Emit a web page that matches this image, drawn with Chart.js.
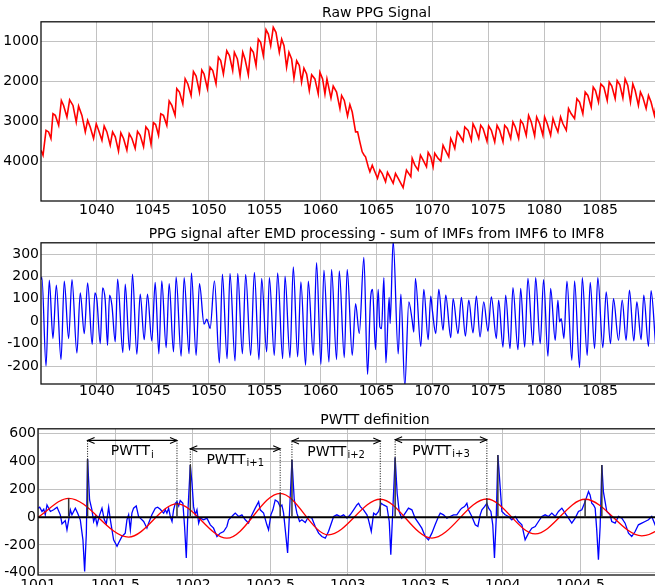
<!DOCTYPE html>
<html><head><meta charset="utf-8">
<script src="https://cdn.jsdelivr.net/npm/chart.js@4/dist/chart.umd.min.js"></script>
<style>
html,body{margin:0;padding:0;background:#fff;overflow:hidden;}
#wrap{position:relative;width:655px;height:585px;overflow:hidden;background:#fff;}
canvas{position:absolute;left:0;}
</style></head><body>
<div id="wrap">
<canvas id="c1" width="730" height="225" style="top:0px"></canvas>
<canvas id="c2" width="730" height="185" style="top:221px"></canvas>
<canvas id="c3" width="730" height="192" style="top:407px"></canvas>
</div>
<script>
// ---------- Panel 1: Raw PPG signal ----------
const rawTitle = 'Raw PPG Signal';
const rawT = [1035.00,1035.18,1035.45,1035.68,1035.89,1036.07,1036.28,1036.58,1036.82,1037.02,1037.32,1037.56,1037.86,1038.15,1038.36,1038.66,1038.96,1039.17,1039.40,1039.70,1039.94,1040.15,1040.45,1040.65,1040.89,1041.19,1041.40,1041.64,1041.93,1042.14,1042.38,1042.68,1042.89,1043.13,1043.42,1043.63,1043.87,1044.17,1044.38,1044.61,1044.84,1045.05,1045.25,1045.51,1045.71,1045.95,1046.25,1046.46,1046.70,1046.99,1047.14,1047.38,1047.68,1047.89,1048.13,1048.42,1048.63,1048.87,1049.17,1049.38,1049.58,1049.88,1050.12,1050.36,1050.65,1050.86,1051.07,1051.31,1051.61,1051.85,1052.14,1052.29,1052.56,1052.80,1053.04,1053.24,1053.54,1053.75,1053.99,1054.23,1054.43,1054.64,1054.88,1055.12,1055.33,1055.54,1055.77,1056.01,1056.31,1056.52,1056.73,1056.96,1057.17,1057.41,1057.62,1057.86,1058.10,1058.30,1058.51,1058.75,1058.99,1059.20,1059.49,1059.79,1059.94,1060.18,1060.39,1060.57,1060.93,1061.13,1061.43,1061.73,1061.88,1062.12,1062.41,1062.62,1062.83,1063.13,1063.31,1063.51,1063.72,1063.90,1064.02,1064.26,1064.41,1064.62,1064.85,1065.09,1065.30,1065.51,1065.81,1065.98,1066.19,1066.49,1066.70,1066.94,1067.38,1067.68,1068.07,1068.19,1068.43,1068.72,1068.93,1069.17,1069.47,1069.62,1069.85,1070.06,1070.21,1070.51,1070.75,1070.95,1071.16,1071.46,1071.64,1071.85,1072.00,1072.23,1072.44,1072.74,1072.89,1073.19,1073.48,1073.63,1073.84,1074.14,1074.32,1074.53,1074.88,1075.03,1075.27,1075.57,1075.78,1076.01,1076.31,1076.46,1076.70,1077.00,1077.20,1077.41,1077.71,1077.89,1078.10,1078.39,1078.60,1078.84,1079.14,1079.32,1079.59,1079.88,1080.03,1080.27,1080.57,1080.78,1080.98,1081.22,1081.46,1081.67,1081.97,1082.17,1082.41,1082.71,1082.92,1083.16,1083.45,1083.66,1083.90,1084.20,1084.38,1084.58,1084.85,1085.06,1085.33,1085.63,1085.81,1086.04,1086.34,1086.52,1086.76,1087.03,1087.23,1087.47,1087.71,1087.92,1088.13,1088.42,1088.60,1088.81,1089.11,1089.32,1089.55,1089.85,1090.05];
const rawV = [3725,3850,3225,3265,3430,2810,2850,3100,2475,2600,2890,2460,2600,3015,2615,2850,3265,2975,3140,3430,3060,3225,3475,3115,3265,3600,3265,3390,3750,3290,3430,3725,3310,3430,3680,3250,3350,3640,3140,3225,3580,3030,3080,3350,2810,2850,3100,2490,2600,2850,2180,2265,2560,1930,2060,2350,1750,1865,2265,1710,1810,2180,1640,1725,2060,1390,1475,1810,1225,1350,1725,1265,1435,1850,1265,1435,1830,1165,1265,1600,935,1015,1350,700,810,1100,640,765,1265,935,1100,1640,1265,1435,1915,1475,1600,2015,1665,1810,2225,1830,1935,2310,1765,1935,2310,1935,2415,2115,2265,2680,2350,2475,2865,2580,2765,3265,3265,3515,3765,3850,3890,4140,4265,4100,4265,4430,4225,4310,4515,4280,4390,4555,4310,4430,4665,4225,4390,3930,4100,4225,3850,3975,4140,3780,3890,4140,3800,3930,3995,3600,3725,3890,3430,3560,3680,3265,3350,3500,3140,3225,3475,3060,3180,3430,3100,3180,3500,3115,3225,3515,3100,3225,3515,3100,3180,3430,3015,3140,3430,2975,3060,3350,2850,3015,3365,2890,3060,3350,2890,3060,3350,2930,3100,3265,2890,3060,3225,2680,2810,2930,2430,2515,2810,2265,2350,2640,2140,2225,2515,2060,2140,2475,2015,2115,2430,1975,2080,2415,1935,2100,2515,2060,2225,2600,2265,2390,2680,2350,2515,2850,2500];
const rawXTicks = [1040,1045,1050,1055,1060,1065,1070,1075,1080,1085];
const rawYTicks = [1000,2000,3000,4000];

// ---------- Panel 2: EMD processed ----------
const emdTitle = 'PPG signal after EMD processing - sum of IMFs from IMF6 to IMF8';
const emdT = [1035.00,1035.08,1035.45,1035.74,1036.07,1036.37,1036.79,1037.08,1037.47,1037.77,1038.21,1038.51,1038.87,1039.17,1039.58,1039.82,1040.00,1040.30,1040.51,1040.74,1040.95,1041.13,1041.34,1041.64,1041.85,1042.32,1042.53,1042.92,1043.18,1043.57,1043.87,1044.23,1044.52,1044.91,1045.21,1045.54,1045.80,1046.19,1046.46,1046.85,1047.08,1047.53,1047.80,1048.24,1048.45,1048.87,1049.17,1049.58,1049.82,1049.97,1050.12,1050.51,1050.95,1051.22,1051.64,1051.90,1052.35,1052.59,1053.01,1053.30,1053.75,1054.08,1054.49,1054.73,1055.18,1055.42,1055.86,1056.16,1056.61,1056.82,1057.26,1057.56,1057.95,1058.24,1058.66,1058.90,1059.35,1059.64,1060.03,1060.30,1060.75,1060.98,1061.43,1061.67,1062.12,1062.38,1062.83,1063.13,1063.46,1063.87,1064.20,1064.47,1064.65,1064.91,1065.15,1065.30,1065.45,1065.66,1065.84,1066.13,1066.22,1066.49,1066.94,1067.18,1067.53,1067.89,1068.19,1068.34,1068.48,1068.96,1069.23,1069.62,1069.85,1070.00,1070.30,1070.57,1070.95,1071.19,1071.64,1071.85,1072.29,1072.59,1072.95,1073.25,1073.63,1073.93,1074.26,1074.59,1074.97,1075.27,1075.72,1075.92,1076.31,1076.55,1076.94,1077.20,1077.65,1077.89,1078.25,1078.54,1078.99,1079.23,1079.64,1079.94,1080.33,1080.57,1080.98,1081.22,1081.37,1081.52,1081.76,1082.03,1082.47,1082.71,1083.16,1083.40,1083.84,1084.11,1084.50,1084.79,1085.24,1085.54,1085.92,1086.19,1086.64,1086.97,1087.32,1087.62,1088.01,1088.28,1088.66,1088.90,1089.32,1089.55,1089.95];
const emdV = [185,196,-200,183,-77,161,-171,179,-77,186,-142,127,-55,171,-103,127,94,-100,149,94,-107,116,72,-92,188,-140,165,-130,210,-147,121,-82,121,-88,173,-145,180,-118,168,-137,198,-156,194,-145,216,-152,168,-13,9,-10,-33,180,-186,210,-167,213,-177,213,-145,209,-152,218,-171,191,-137,195,-152,216,-167,201,-162,243,-159,176,-197,179,-152,261,-192,228,-182,231,-171,225,-162,231,-152,79,-55,285,-237,101,142,-127,142,-25,-33,194,-186,106,-10,360,-145,121,-290,86,4,-48,191,-112,142,-82,112,46,-55,142,-40,116,-73,101,-55,106,-66,94,-52,112,-70,86,-45,109,-77,94,-115,116,-122,150,-127,146,-115,191,-107,195,-100,186,-156,146,-85,94,-3,12,-77,179,-174,180,-207,195,-152,173,-122,195,-118,131,-100,101,-85,94,-85,139,-88,86,-82,116,-112,136,-100];
const emdXTicks = [1040,1045,1050,1055,1060,1065,1070,1075,1080,1085];
const emdYTicks = [-200,-100,0,100,200,300];

// ---------- Panel 3: PWTT definition ----------
const pwttTitle = 'PWTT definition';
const ppgT = [1001.000,1001.011,1001.026,1001.037,1001.047,1001.058,1001.080,1001.101,1001.123,1001.144,1001.155,1001.176,1001.187,1001.198,1001.209,1001.219,1001.241,1001.256,1001.273,1001.290,1001.301,1001.312,1001.320,1001.333,1001.348,1001.359,1001.370,1001.381,1001.398,1001.413,1001.428,1001.441,1001.456,1001.467,1001.488,1001.510,1001.520,1001.542,1001.563,1001.574,1001.585,1001.596,1001.606,1001.617,1001.634,1001.649,1001.660,1001.682,1001.703,1001.714,1001.735,1001.757,1001.772,1001.789,1001.811,1001.822,1001.832,1001.843,1001.854,1001.865,1001.875,1001.886,1001.897,1001.908,1001.918,1001.935,1001.946,1001.957,1001.968,1001.983,1001.994,1002.004,1002.015,1002.026,1002.037,1002.047,1002.069,1002.090,1002.112,1002.133,1002.155,1002.176,1002.198,1002.219,1002.230,1002.241,1002.262,1002.273,1002.295,1002.316,1002.338,1002.359,1002.370,1002.381,1002.402,1002.424,1002.434,1002.456,1002.477,1002.488,1002.503,1002.516,1002.531,1002.548,1002.563,1002.574,1002.585,1002.596,1002.611,1002.624,1002.639,1002.654,1002.671,1002.688,1002.703,1002.725,1002.746,1002.768,1002.789,1002.811,1002.832,1002.854,1002.875,1002.886,1002.908,1002.929,1002.951,1002.972,1002.994,1003.015,1003.037,1003.058,1003.069,1003.080,1003.101,1003.123,1003.133,1003.151,1003.166,1003.181,1003.198,1003.215,1003.230,1003.252,1003.267,1003.277,1003.290,1003.305,1003.318,1003.331,1003.348,1003.370,1003.391,1003.413,1003.434,1003.456,1003.477,1003.499,1003.520,1003.542,1003.563,1003.585,1003.596,1003.617,1003.639,1003.660,1003.682,1003.703,1003.725,1003.735,1003.753,1003.768,1003.778,1003.800,1003.822,1003.839,1003.854,1003.865,1003.882,1003.897,1003.908,1003.923,1003.935,1003.946,1003.957,1003.968,1003.978,1003.994,1004.015,1004.037,1004.058,1004.080,1004.101,1004.123,1004.144,1004.166,1004.187,1004.209,1004.230,1004.252,1004.273,1004.295,1004.316,1004.338,1004.359,1004.381,1004.402,1004.424,1004.445,1004.467,1004.488,1004.510,1004.531,1004.553,1004.563,1004.574,1004.585,1004.596,1004.606,1004.617,1004.628,1004.639,1004.649,1004.671,1004.692,1004.703,1004.725,1004.746,1004.768,1004.789,1004.811,1004.832,1004.854,1004.875,1004.897,1004.918,1004.940,1004.961,1004.983,1005.050,1005.150];
const ppgV = [65,72,41,57,17,88,41,53,72,17,-48,-24,-91,-19,53,17,65,29,-19,-163,-390,-115,416,124,53,-31,5,-55,17,65,-19,-48,72,-19,-163,-210,-186,-139,-115,-19,17,-91,29,65,81,5,-7,-31,-79,-43,17,65,72,57,29,53,29,65,5,-31,53,100,112,81,120,100,-67,-294,53,375,244,76,17,53,-43,-7,-19,-7,-55,-79,-139,-115,-103,-67,-19,-7,17,29,5,17,-19,-43,-7,17,65,112,53,29,-55,-91,17,53,124,112,76,88,29,-91,-258,53,411,124,29,-31,-19,-38,5,-7,-67,-115,-139,-151,-103,-67,5,17,5,17,-7,17,53,88,100,76,53,17,-19,-103,29,17,41,100,88,76,-31,-270,53,430,172,41,-7,29,65,53,-7,-43,-79,-139,-163,-115,-55,5,29,17,-7,5,17,17,53,65,76,100,53,5,-55,-67,17,53,76,100,65,41,-55,-294,-19,447,292,41,17,5,-19,5,-31,-55,-163,-115,-79,-67,-31,5,17,5,29,5,41,65,29,-7,-43,-7,41,53,112,184,160,100,88,65,-91,-306,-67,375,184,41,17,-31,-43,5,-7,-43,-115,-139,-103,-55,-43,-31,-19,5,-55,10,40];
const sineT = [1001.000,1001.198,1001.585,1001.897,1002.219,1002.563,1002.875,1003.209,1003.542,1003.897,1004.209,1004.531,1004.897,1005.230];
const sineV = [0,136,-143,96,-151,172,-127,129,-151,131,-120,129,-134,130];
const zeroT = [1001.0, 1005.35];
const zeroV = [0, 0];
const spikeT = [1001.320,1001.983,1002.639,1003.305,1003.968,1004.639];
const spikeV = [416,375,411,430,447,375];
const sinePeakT = [1001.198,1001.897,1002.563,1003.209,1003.897,1004.531];
const sinePeakV = [136,96,172,129,131,129];
const pwttStart = [1001.320,1001.983,1002.639,1003.305];
const pwttStartV = [416,375,411,430];
const pwttEnd = [1001.897,1002.563,1003.209,1003.897];
const pwttEndV = [96,172,129,131];
const pwttLevel = [552,492,549,557];
const pwttSub = ['i','i+1','i+2','i+3'];
const pwttXTicks = [1001,1001.5,1002,1002.5,1003,1003.5,1004,1004.5];
const pwttYTicks = [-400,-200,0,200,400,600];

// ---------- common ----------
const FONT = '"DejaVu Sans", "Liberation Sans", sans-serif';
Chart.defaults.font.family = FONT;
Chart.defaults.font.size = 14;
Chart.defaults.color = '#000';
const W = 730, RIGHT = 712;

const pts = (t, v) => t.map((x, i) => ({x, y: v[i]}));

const frame = {
  id: 'frame',
  afterDraw(chart) {
    const {ctx, chartArea: a} = chart;
    ctx.save();
    ctx.strokeStyle = '#111';
    ctx.lineWidth = 1.3;
    ctx.strokeRect(a.left, a.top, a.right - a.left, a.bottom - a.top);
    ctx.restore();
  }
};

function xAxis(min, max, ticks, h, pad) {
  return {
    type: 'linear', min, max,
    afterBuildTicks: s => { s.ticks = ticks.map(v => ({value: v})); },
    afterFit: s => { s.height = h; },
    grid: {color: '#c2c2c2', lineWidth: 1, drawTicks: false},
    border: {display: false},
    ticks: {autoSkip: false, maxRotation: 0, minRotation: 0, padding: pad,
      font: {size: 14, lineHeight: 1}, color: '#000', callback: v => String(v)}
  };
}
function yAxis(min, max, ticks, w, reverse) {
  return {
    type: 'linear', min, max, reverse: !!reverse,
    afterBuildTicks: s => { s.ticks = ticks.map(v => ({value: v})); },
    afterFit: s => { s.width = w; },
    grid: {color: '#c2c2c2', lineWidth: 1, drawTicks: false},
    border: {display: false},
    ticks: {autoSkip: false, padding: 2, font: {size: 14, lineHeight: 1}, color: '#000', callback: v => String(v)}
  };
}
function baseOpts(title, x, y) {
  return {
    responsive: false, animation: false, devicePixelRatio: 1,
    layout: {padding: {left: 0, right: W - RIGHT, top: 0, bottom: 0}},
    plugins: {
      legend: {display: false}, tooltip: {enabled: false},
      title: {display: true, text: title, fullSize: false, color: '#000',
        font: {size: 14, weight: 'normal', lineHeight: 1.2}, padding: {top: 5, bottom: 0}}
    },
    scales: {x, y},
    elements: {point: {radius: 0}}
  };
}

// Panel 1
new Chart(document.getElementById('c1'), {
  type: 'line',
  data: {datasets: [{data: pts(rawT, rawV), borderColor: '#ff0000', borderWidth: 1.6, tension: 0, pointRadius: 0}]},
  options: baseOpts(rawTitle, xAxis(1035, 1095, rawXTicks, 24, 2), yAxis(500, 5000, rawYTicks, 41, true)),
  plugins: [frame]
});

// Panel 2
new Chart(document.getElementById('c2'), {
  type: 'line',
  data: {datasets: [{data: pts(emdT, emdV), borderColor: '#0000ff', borderWidth: 1.3, cubicInterpolationMode: 'monotone', pointRadius: 0}]},
  options: baseOpts(emdTitle, xAxis(1035, 1095, emdXTicks, 22, 0), yAxis(-280, 350, emdYTicks, 41, false)),
  plugins: [frame]
});

// Panel 3 annotations
const pwttPlugin = {
  id: 'pwtt',
  afterDatasetsDraw(chart) {
    const {ctx, chartArea: a, scales: {x, y}} = chart;
    ctx.save();
    ctx.beginPath(); ctx.rect(a.left, a.top, a.right - a.left, a.bottom - a.top); ctx.clip();
    const y0 = y.getPixelForValue(0);
    ctx.strokeStyle = '#333'; ctx.lineWidth = 1.5; ctx.setLineDash([]);
    const vline = (t, v) => { const px = x.getPixelForValue(t); ctx.beginPath(); ctx.moveTo(px, y0); ctx.lineTo(px, y.getPixelForValue(v)); ctx.stroke(); };
    sinePeakT.forEach((t, i) => vline(t, sinePeakV[i]));
    spikeT.forEach((t, i) => vline(t, spikeV[i]));
    for (let i = 0; i < pwttStart.length; i++) {
      const xs = x.getPixelForValue(pwttStart[i]), xe = x.getPixelForValue(pwttEnd[i]);
      const ly = y.getPixelForValue(pwttLevel[i]);
      ctx.strokeStyle = '#000'; ctx.lineWidth = 1; ctx.setLineDash([1, 1.5]);
      ctx.beginPath();
      ctx.moveTo(xs, y.getPixelForValue(pwttStartV[i])); ctx.lineTo(xs, ly);
      ctx.moveTo(xe, y.getPixelForValue(pwttEndV[i])); ctx.lineTo(xe, ly);
      ctx.stroke();
      ctx.setLineDash([]);
      ctx.lineWidth = 1.2;
      ctx.beginPath(); ctx.moveTo(xs, ly); ctx.lineTo(xe, ly); ctx.stroke();
      ctx.lineWidth = 1.1;
      ctx.beginPath();
      ctx.moveTo(xs + 7, ly - 3); ctx.lineTo(xs, ly); ctx.lineTo(xs + 7, ly + 3);
      ctx.moveTo(xe - 7, ly - 3); ctx.lineTo(xe, ly); ctx.lineTo(xe - 7, ly + 3);
      ctx.stroke();
      const mid = (xs + xe) / 2;
      ctx.fillStyle = '#000';
      ctx.font = '14px ' + FONT; const w1 = ctx.measureText('PWTT').width;
      ctx.font = '10px ' + FONT; const w2 = ctx.measureText(pwttSub[i]).width;
      const left = mid - (w1 + 1 + w2) / 2;
      ctx.textBaseline = 'alphabetic'; ctx.textAlign = 'left';
      ctx.font = '14px ' + FONT; ctx.fillText('PWTT', left, ly + 15);
      ctx.font = '10px ' + FONT; ctx.fillText(pwttSub[i], left + w1 + 1, ly + 17.5);
    }
    ctx.restore();
  }
};

new Chart(document.getElementById('c3'), {
  type: 'line',
  data: {datasets: [
    {data: pts(zeroT, zeroV), borderColor: '#000', borderWidth: 2, tension: 0, pointRadius: 0},
    {data: pts(sineT, sineV), borderColor: '#ff0000', borderWidth: 1.3, cubicInterpolationMode: 'monotone', pointRadius: 0},
    {data: pts(ppgT, ppgV), borderColor: '#0000ff', borderWidth: 1.3, tension: 0, pointRadius: 0}
  ]},
  options: baseOpts(pwttTitle, xAxis(1001, 1005.35, pwttXTicks, 24, 3), yAxis(-416, 636, pwttYTicks, 38, false)),
  plugins: [pwttPlugin, frame]
});
</script>
</body></html>
